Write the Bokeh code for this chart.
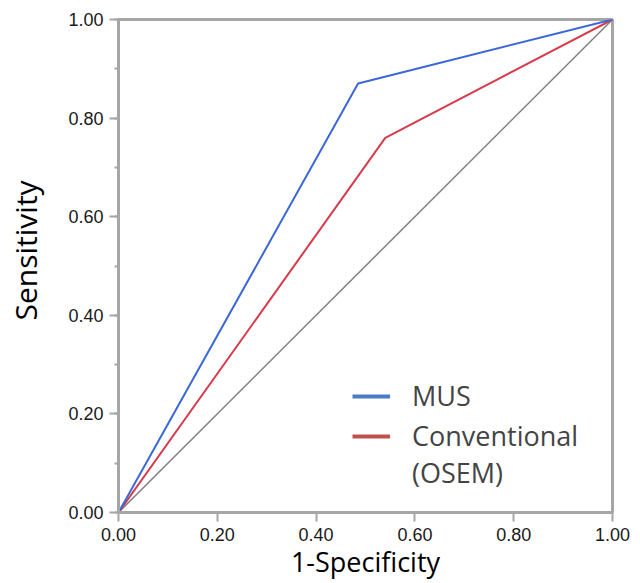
from bokeh.plotting import figure
from bokeh.models import (Range1d, SingleIntervalTicker, NumeralTickFormatter,
                          Legend, LegendItem)
from bokeh.embed import file_html
from bokeh.resources import INLINE

# data
diag_x = [0.0, 1.0]
diag_y = [0.0, 1.0]
mus_x = [0.0, 0.485, 1.0]
mus_y = [0.0, 0.87, 1.0]
conv_x = [0.0, 0.54, 1.0]
conv_y = [0.0, 0.76, 1.0]
series_labels = ["MUS", "Conventional", "(OSEM)"]
x_title = "1-Specificity"
y_title = "Sensitivity"

GRAY = "#a6a6a6"
NBSP = "\u00a0"

p = figure(width=640, height=583, output_backend="svg", toolbar_location=None,
           x_range=Range1d(0, 1), y_range=Range1d(0, 1),
           min_border_left=118, min_border_right=28, min_border_top=19, min_border_bottom=71)
p.grid.visible = False
p.outline_line_color = GRAY
p.outline_line_width = 3
p.background_fill_color = "white"
p.border_fill_color = "white"

for ax, nminor in ((p.xaxis[0], 0), (p.yaxis[0], 2)):
    ax.ticker = SingleIntervalTicker(interval=0.2, num_minor_ticks=nminor)
    ax.formatter = NumeralTickFormatter(format="0.00")
    ax.axis_line_color = GRAY
    ax.axis_line_width = 3
    ax.major_tick_line_color = GRAY
    ax.major_tick_line_width = 2
    ax.minor_tick_line_color = GRAY
    ax.minor_tick_line_width = 2
    ax.major_tick_in = 0
    ax.major_tick_out = 9
    ax.minor_tick_in = 0
    ax.minor_tick_out = 4
    ax.major_label_text_font = "Liberation Sans"
    ax.major_label_text_font_size = "18px"
    ax.major_label_text_color = "#1a1a1a"
    ax.axis_label_text_font = "Open Sans"
    ax.axis_label_text_font_style = "normal"
    ax.axis_label_text_color = "black"

p.xaxis.major_label_standoff = 6
p.yaxis.major_label_standoff = 6
p.xaxis.axis_label = x_title
p.xaxis.axis_label_text_font_size = "27px"
p.xaxis.axis_label_standoff = -1
# leading no-break spaces shift the rotated title upward, as in the original
p.yaxis.axis_label = NBSP * 4 + y_title
p.yaxis.axis_label_text_font_size = "30px"
p.yaxis.axis_label_standoff = 19

p.line(diag_x, diag_y, line_color="#808080", line_width=1.5)
p.line(conv_x, conv_y, line_color="#d8394b", line_width=2)
p.line(mus_x, mus_y, line_color="#3b68d8", line_width=2)

# renderers used only for legend swatches
leg_mus = p.line(mus_x, mus_y, line_color="#4a7cc4", line_width=4, visible=False)
leg_conv = p.line(conv_x, conv_y, line_color="#c0504d", line_width=4, visible=False)
leg_none = p.line(conv_x, conv_y, line_color="#c0504d", line_alpha=0, line_width=4, visible=False)

common = dict(orientation="vertical", background_fill_alpha=0, border_line_alpha=0,
              label_text_font="Open Sans", label_text_font_size="27px",
              glyph_width=38, glyph_height=34, label_height=34, label_standoff=22,
              spacing=0, padding=0, margin=0)
legend1 = Legend(items=[LegendItem(label=series_labels[0], renderers=[leg_mus])],
                 location=(234, 98), **common)
legend2 = Legend(items=[LegendItem(label=series_labels[1], renderers=[leg_conv]),
                        LegendItem(label=series_labels[2], renderers=[leg_none])],
                 location=(234, 21), **common)
p.add_layout(legend1, "center")
p.add_layout(legend2, "center")

open("out.html", "w").write(file_html(p, INLINE))
